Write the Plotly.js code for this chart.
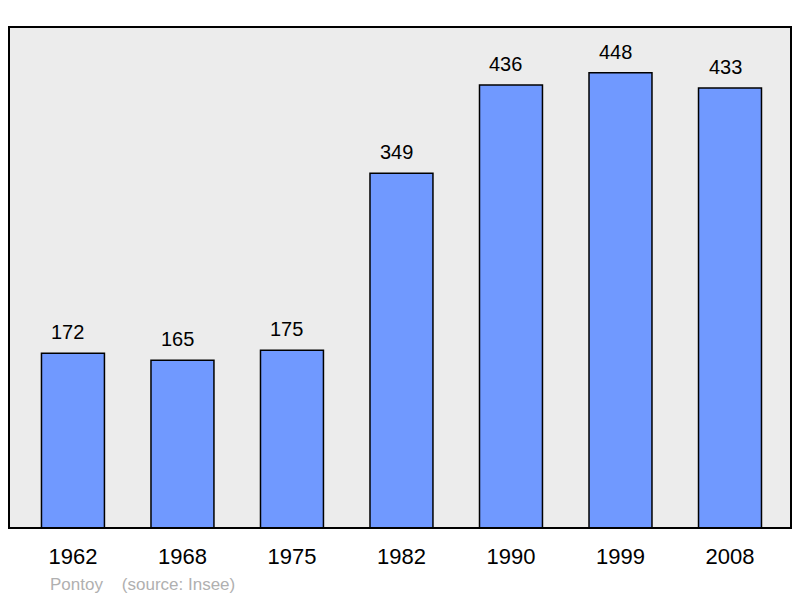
<!DOCTYPE html>
<html><head><meta charset="utf-8">
<script src="https://cdn.plot.ly/plotly-3.0.1.min.js"></script>
<style>body{margin:0;background:#fff}#c{width:800px;height:598px}</style>
</head><body><div id="c"></div>
<script>
const years = ['1962','1968','1975','1982','1990','1999','2008'];
const population = [172,165,175,349,436,448,433];
const xs = years.map((_, i) => i);

const trace = {
  type: 'bar', x: xs, y: population, width: 0.575,
  marker: {color: '#7099ff', line: {color: '#000', width: 1.5}},
  hoverinfo: 'skip'
};
const anns = population.map((v, i) => ({
  x: i, y: v, xref: 'x', yref: 'y', text: String(v), showarrow: false,
  yanchor: 'bottom', yshift: 8, xshift: -5,
  font: {family: 'Liberation Sans, Arial, sans-serif', size: 20, color: '#000'}
}));
anns.push({
  xref: 'paper', yref: 'paper', x: 0.05, y: -0.112, xanchor: 'left', yanchor: 'middle',
  text: 'Pontoy&nbsp;&nbsp;&nbsp;&nbsp;(source: Insee)', showarrow: false,
  font: {family: 'Liberation Sans, Arial, sans-serif', size: 17, color: '#b0b0b0'}
});
const layout = {
  width: 800, height: 598,
  margin: {l: 9, r: 9, t: 27, b: 70},
  paper_bgcolor: '#fff', plot_bgcolor: '#ececec',
  showlegend: false,
  xaxis: {range: [-0.584, 6.557], tickvals: xs, ticktext: years, showgrid: false, zeroline: false,
    ticks: 'outside', ticklen: 9, tickcolor: 'rgba(0,0,0,0)',
    tickfont: {family: 'Liberation Sans, Arial, sans-serif', size: 22, color: '#000'}, fixedrange: true},
  yaxis: {range: [0, 493], showgrid: false, zeroline: false, showticklabels: false, fixedrange: true},
  annotations: anns,
  shapes: [{type: 'rect', xref: 'paper', yref: 'paper', x0: 0, x1: 1, y0: 0, y1: 1,
    line: {color: '#000', width: 2}}]
};
Plotly.newPlot('c', [trace], layout, {displayModeBar: false, staticPlot: true});
</script></body></html>
